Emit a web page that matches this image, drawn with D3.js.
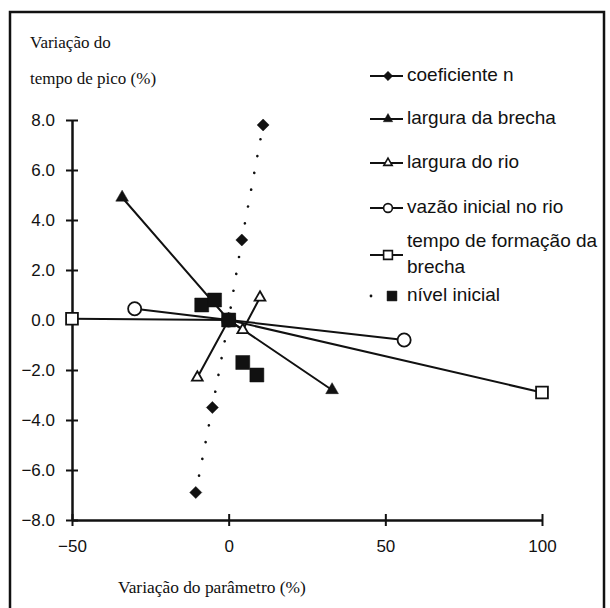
<!DOCTYPE html>
<html><head><meta charset="utf-8">
<script src="https://cdn.jsdelivr.net/npm/d3@7"></script>
<style>body{margin:0;background:#fff}svg{display:block}</style>
</head><body>
<script>
const xTicks = [-50, 0, 50, 100];
const yTicks = [-8, -6, -4, -2, 0, 2, 4, 6, 8];
const coeficienteN = [[-10.5,-6.9],[-5.2,-3.5],[0,0],[4.2,3.2],[11,7.8]];
const larguraBrecha = [[-34,4.9],[0,0],[33,-2.8]];
const larguraRio = [[-10,-2.3],[0,0],[4.5,-0.4],[10,0.9]];
const vazaoInicial = [[-30,0.45],[0,0],[56,-0.8]];
const tempoFormacao = [[-50,0.05],[0,0],[100,-2.9]];
const nivelInicial = [[-8.6,0.6],[-4.5,0.8],[0,0],[4.5,-1.7],[9,-2.2]];
const legendLabels = ["coeficiente n","largura da brecha","largura do rio","vazão inicial no rio",["tempo de formação da","brecha"],"nível inicial"];

const W=610,H=608;
const svg=d3.select("body").append("svg").attr("width",W).attr("height",H);
svg.append("rect").attr("x",10).attr("y",12).attr("width",594).attr("height",610)
  .attr("fill","none").attr("stroke","#111").attr("stroke-width",2.5);

const x=d3.scaleLinear().domain([-50,100]).range([72,542]);
const y=d3.scaleLinear().domain([-8,8]).range([520,120]);
const sans="Arial, 'Liberation Sans', sans-serif";
const serif="'Times New Roman','Liberation Serif',serif";

// axes
const gx=svg.append("g").attr("transform",`translate(0,${y(-8)})`)
  .call(d3.axisBottom(x).tickValues(xTicks).tickFormat(d3.format("d")).tickSize(0).tickPadding(20));
gx.selectAll(".tick line").remove();
gx.selectAll(".tick").append("line").attr("y1",-6).attr("y2",6).attr("stroke","#111").attr("stroke-width",2);
const gy=svg.append("g").attr("transform",`translate(${x(-50)},0)`)
  .call(d3.axisLeft(y).tickValues(yTicks).tickFormat(d3.format(".1f")).tickSize(0).tickPadding(17));
gy.selectAll(".tick line").remove();
gy.selectAll(".tick").append("line").attr("x1",-6).attr("x2",6).attr("stroke","#111").attr("stroke-width",2);
[gx,gy].forEach(g=>{g.select(".domain").attr("stroke","#111").attr("stroke-width",2.5);
  g.selectAll("text").attr("font-family",sans).attr("font-size",17).attr("fill","#111");});

// titles
svg.append("text").attr("x",30).attr("y",48).attr("font-family",serif).attr("font-size",17).attr("fill","#111").text("Variação do");
svg.append("text").attr("x",30).attr("y",84).attr("font-family",serif).attr("font-size",17).attr("fill","#111").text("tempo de pico (%)");
svg.append("text").attr("x",118).attr("y",593).attr("font-family",serif).attr("font-size",17.4).attr("fill","#111").text("Variação do parâmetro (%)");

const line=d3.line().x(d=>x(d[0])).y(d=>y(d[1]));
function path(data,dotted){
  svg.append("path").attr("d",line(data)).attr("fill","none").attr("stroke","#111")
    .attr("stroke-width",dotted?2.6:2).attr("stroke-dasharray",dotted?"0.1,17":null).attr("stroke-linecap",dotted?"round":"butt");
}
const sym={
  diamond:{type:d3.symbolSquare,size:72,fill:true,rot:45},
  tri:{type:d3.symbolTriangle,size:70,fill:true},
  otri:{type:d3.symbolTriangle,size:50,fill:false},
  circ:{type:d3.symbolCircle,size:135,fill:false},
  osq:{type:d3.symbolSquare,size:140,fill:false},
  sq:{type:d3.symbolSquare,size:196,fill:true}
};
function marks(data,s){
  svg.append("g").selectAll("path").data(data).join("path")
    .attr("transform",d=>`translate(${x(d[0])},${y(d[1])}) rotate(${sym[s].rot||0})`)
    .attr("d",d3.symbol().type(sym[s].type).size(sym[s].size))
    .attr("fill",sym[s].fill?"#111":"#fff").attr("stroke","#111").attr("stroke-width",sym[s].fill?0.5:1.8);
}
path(tempoFormacao); path(vazaoInicial); path(larguraBrecha); path(larguraRio); path(coeficienteN,true);
marks(tempoFormacao,"osq"); marks(vazaoInicial,"circ"); marks(larguraBrecha,"tri"); marks(larguraRio,"otri");
marks(coeficienteN,"diamond"); marks(nivelInicial,"sq");

// legend
const legY=[76,119,163,208,255,296];
const legSym=["diamond","tri","otri","circ","osq","sq"];
const legScale=[0.6,0.55,0.6,0.45,0.55,0.5];
legendLabels.forEach((lab,i)=>{
  const g=svg.append("g").attr("transform",`translate(0,${legY[i]})`);
  if(i<5){ g.append("line").attr("x1",370).attr("x2",403).attr("stroke","#111").attr("stroke-width",2); }
  else { g.append("circle").attr("cx",371).attr("cy",0).attr("r",1.4).attr("fill","#111"); }
  const s=sym[legSym[i]];
  g.append("path").attr("transform",`translate(${i<5?388:392},0) rotate(${s.rot||0})`)
    .attr("d",d3.symbol().type(s.type).size(s.size*legScale[i]))
    .attr("fill",s.fill?"#111":"#fff").attr("stroke","#111").attr("stroke-width",s.fill?0.5:1.6);
  const t=g.append("text").attr("font-family",sans).attr("font-size",19).attr("fill","#111");
  if(Array.isArray(lab)){
    t.append("tspan").attr("x",407).attr("y",-8).text(lab[0]);
    t.append("tspan").attr("x",407).attr("y",18).text(lab[1]);
  } else t.attr("x",407).attr("y",5).text(lab);
});
</script>
</body></html>
